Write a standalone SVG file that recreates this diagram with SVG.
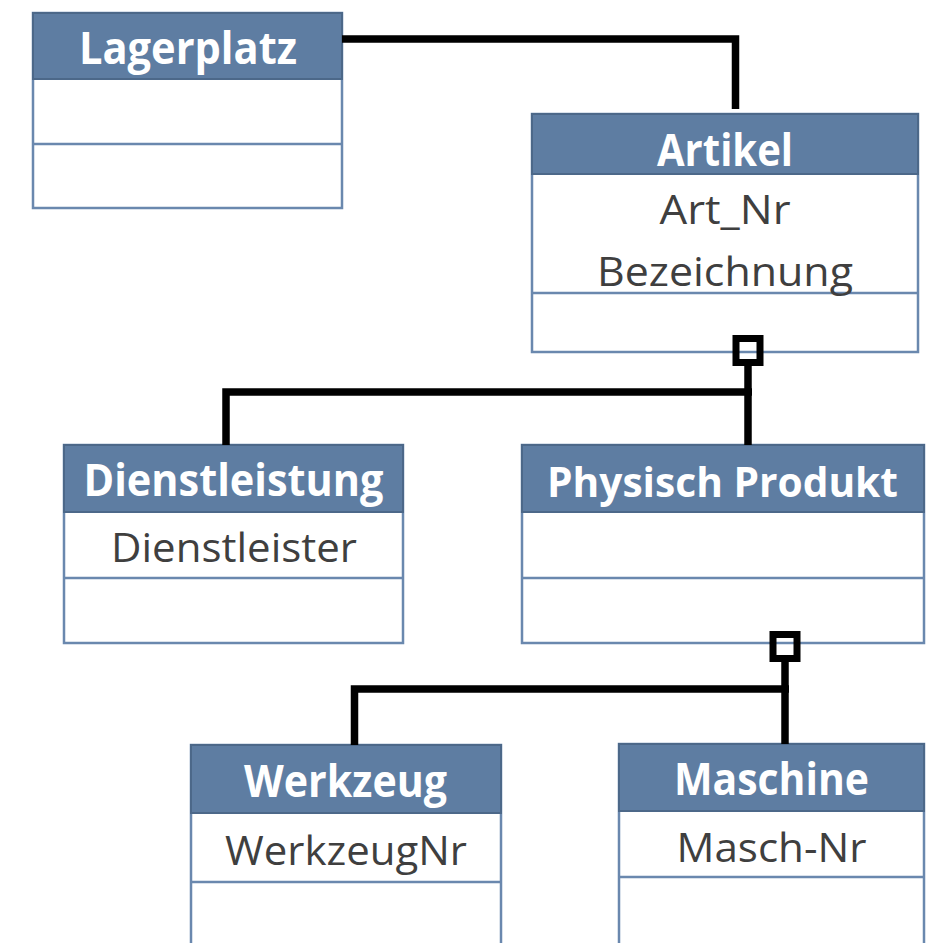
<svg xmlns="http://www.w3.org/2000/svg" width="926" height="943" viewBox="0 0 926 943">
  <style>
    .body { fill: #ffffff; stroke: #6a88ae; stroke-width: 2.5; }
    .head { fill: #5e7da2; stroke: #4c6889; stroke-width: 2; }
    .sep { stroke: #6a88ae; stroke-width: 2.5; }
    .title { font-family: "Open Sans", "Noto Sans", sans-serif; font-weight: bold; font-size: 45px; fill: #ffffff; text-anchor: middle; }
    .title.long { font-size: 41px; }
    .attr { font-family: "Open Sans", "Noto Sans", sans-serif; font-size: 41px; fill: #3f3f3f; text-anchor: middle; }
    .link { fill: none; stroke: #000000; stroke-width: 7.5; stroke-linejoin: miter; stroke-linecap: butt; }
    .gen { fill: none; stroke: #000000; stroke-width: 7; }
  </style>

  <rect width="926" height="943" fill="#ffffff"/>

  <!-- Lagerplatz -->
  <g id="lagerplatz">
    <rect class="body" x="33" y="13" width="309" height="195"/>
    <rect class="head" x="33" y="13" width="309" height="66"/>
    <line class="sep" x1="33" y1="144" x2="342" y2="144"/>
    <text class="title" x="188" y="64" textLength="218" lengthAdjust="spacingAndGlyphs">Lagerplatz</text>
  </g>

  <!-- Artikel -->
  <g id="artikel">
    <rect class="body" x="532" y="114" width="386" height="238"/>
    <rect class="head" x="532" y="114" width="386" height="60"/>
    <line class="sep" x1="532" y1="293" x2="918" y2="293"/>
    <text class="title" x="725" y="166" textLength="136" lengthAdjust="spacingAndGlyphs">Artikel</text>
    <text class="attr" x="725" y="224" textLength="131" lengthAdjust="spacingAndGlyphs">Art_Nr</text>
    <text class="attr" x="725" y="285.5" textLength="256" lengthAdjust="spacingAndGlyphs">Bezeichnung</text>
  </g>

  <!-- Dienstleistung -->
  <g id="dienstleistung">
    <rect class="body" x="64" y="445" width="339" height="198"/>
    <rect class="head" x="64" y="445" width="339" height="67"/>
    <line class="sep" x1="64" y1="578" x2="403" y2="578"/>
    <text class="title" x="233.5" y="496" textLength="300" lengthAdjust="spacingAndGlyphs">Dienstleistung</text>
    <text class="attr" x="234" y="562" textLength="246" lengthAdjust="spacingAndGlyphs">Dienstleister</text>
  </g>

  <!-- Physisch Produkt -->
  <g id="physisch-produkt">
    <rect class="body" x="522" y="445" width="402" height="198"/>
    <rect class="head" x="522" y="445" width="402" height="67"/>
    <line class="sep" x1="522" y1="578" x2="924" y2="578"/>
    <text class="title long" x="722.5" y="496.5" textLength="351" lengthAdjust="spacingAndGlyphs">Physisch Produkt</text>
  </g>

  <!-- Werkzeug -->
  <g id="werkzeug">
    <rect class="body" x="191" y="745" width="310" height="204"/>
    <rect class="head" x="191" y="745" width="310" height="68"/>
    <line class="sep" x1="191" y1="882" x2="501" y2="882"/>
    <text class="title" x="345.5" y="796.5" textLength="203" lengthAdjust="spacingAndGlyphs">Werkzeug</text>
    <text class="attr" x="346" y="865" textLength="242" lengthAdjust="spacingAndGlyphs">WerkzeugNr</text>
  </g>

  <!-- Maschine -->
  <g id="maschine">
    <rect class="body" x="619" y="744" width="305" height="205"/>
    <rect class="head" x="619" y="744" width="305" height="67"/>
    <line class="sep" x1="619" y1="877" x2="924" y2="877"/>
    <text class="title" x="771.5" y="795" textLength="195" lengthAdjust="spacingAndGlyphs">Maschine</text>
    <text class="attr" x="771.5" y="861.5" textLength="190" lengthAdjust="spacingAndGlyphs">Masch-Nr</text>
  </g>

  <!-- connectors, drawn on top of the classes -->
  <g id="connectors">
    <!-- Lagerplatz to Artikel association -->
    <path class="link" d="M342,39 H735.5 V109"/>
    <!-- Artikel generalization -->
    <path class="link" d="M748,366 V445"/>
    <path class="link" d="M226,445 V392 H752"/>
    <rect class="gen" x="736" y="338.5" width="24" height="24"/>
    <!-- Physisch Produkt generalization -->
    <path class="link" d="M785,662 V744"/>
    <path class="link" d="M354.5,745 V689 H789"/>
    <rect class="gen" x="773" y="634.5" width="24" height="24"/>
  </g>
</svg>
